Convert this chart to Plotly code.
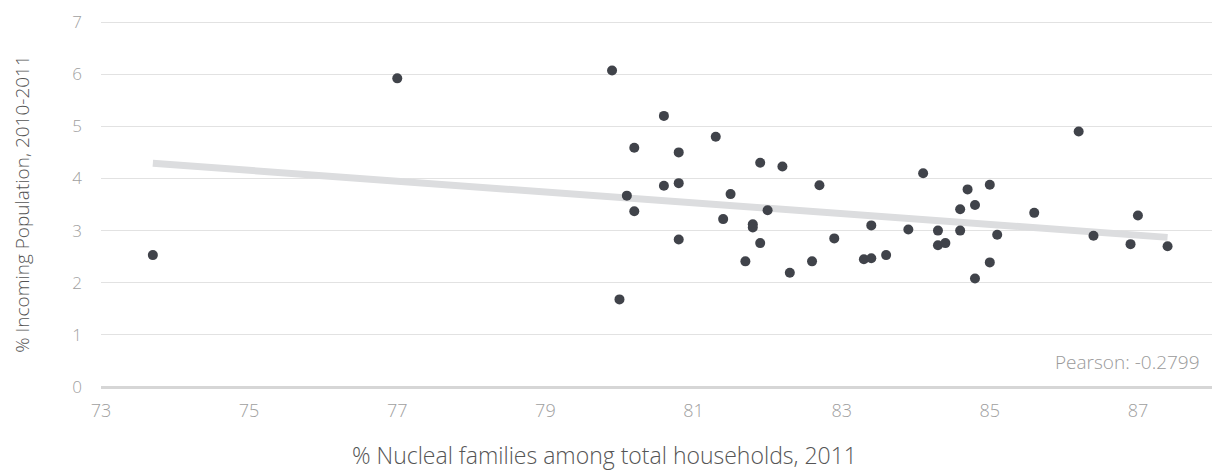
import plotly.graph_objects as go

# % nuclear families among households (2011) vs % incoming population (2010-2011)
nuclear = [77.0, 73.7,
           79.9, 80.6, 81.3, 80.2, 80.8, 81.9, 82.2, 80.6, 80.8, 82.7, 80.1, 81.5,
           82.0, 80.2, 81.4, 81.8, 81.8, 83.4, 80.8, 82.9, 81.9, 81.7, 82.6, 83.3,
           83.4, 83.6, 82.3, 80.0,
           86.2, 84.1, 84.7, 85.0, 84.6, 84.8, 85.6, 87.0, 83.9, 84.3, 84.6, 85.1,
           86.4, 84.3, 84.4, 86.9, 87.4, 85.0, 84.8]
incoming = [5.92, 2.53,
            6.07, 5.20, 4.80, 4.59, 4.50, 4.30, 4.23, 3.86, 3.91, 3.87, 3.67, 3.70,
            3.39, 3.37, 3.22, 3.12, 3.06, 3.10, 2.83, 2.85, 2.76, 2.41, 2.41, 2.45,
            2.47, 2.53, 2.19, 1.68,
            4.90, 4.10, 3.79, 3.88, 3.41, 3.49, 3.34, 3.29, 3.02, 3.00, 3.00, 2.92,
            2.90, 2.72, 2.76, 2.74, 2.70, 2.39, 2.08]

trend_x = [73.7, 87.4]
trend_y = [4.29, 2.87]
pearson = -0.2799

x_ticks = [73, 75, 77, 79, 81, 83, 85, 87]
y_ticks = [0, 1, 2, 3, 4, 5, 6, 7]

FONT = "Open Sans"

fig = go.Figure()
fig.add_trace(go.Scatter(x=trend_x, y=trend_y, mode="lines",
                         line=dict(color="#dcdddf", width=7), hoverinfo="skip"))
fig.add_trace(go.Scatter(x=nuclear, y=incoming, mode="markers",
                         marker=dict(color="#40434a", size=10)))

fig.add_annotation(x=1, xref="paper", xanchor="right", xshift=-10,
                   y=0.068, yref="paper", yanchor="middle",
                   text="Pearson: %.4f" % pearson, showarrow=False,
                   font=dict(family=FONT, weight=300, size=19, color="#9a9a9a"))

# x title sits a little left of the plot centre in the original
fig.add_annotation(x=0.4536, xref="paper", xanchor="center",
                   y=-0.186, yref="paper", yanchor="middle",
                   text="% Nucleal families among total households, 2011", showarrow=False,
                   font=dict(family=FONT, weight=300, size=23, color="#555555"))

# page body has an 8px margin, so the margins are shifted to compensate
fig.update_layout(
    width=1220, height=470,
    margin=dict(l=93, r=16, t=13, b=91),
    plot_bgcolor="white", paper_bgcolor="white",
    showlegend=False,
    font=dict(family=FONT, weight=300, color="#999999"),
    xaxis=dict(range=[73, 88], tickvals=x_ticks, showgrid=False, zeroline=False,
               showline=False, tickfont=dict(size=18, color="#a0a0a0"), ticks="",
               ticklabelstandoff=11, automargin=False),
    yaxis=dict(range=[0, 7.02], tickvals=y_ticks, showgrid=True, gridcolor="#e2e2e2",
               gridwidth=1, zeroline=True, zerolinecolor="#d6d6d6", zerolinewidth=3,
               showline=False, tickfont=dict(size=17, color="#a0a0a0"), ticks="",
               ticklabelstandoff=18, ticklabeloverflow="allow", automargin=False,
               title=dict(text="% Incoming Population, 2010-2011",
                          font=dict(size=19, color="#555555"), standoff=37)),
)

fig.write_html("out.html")
